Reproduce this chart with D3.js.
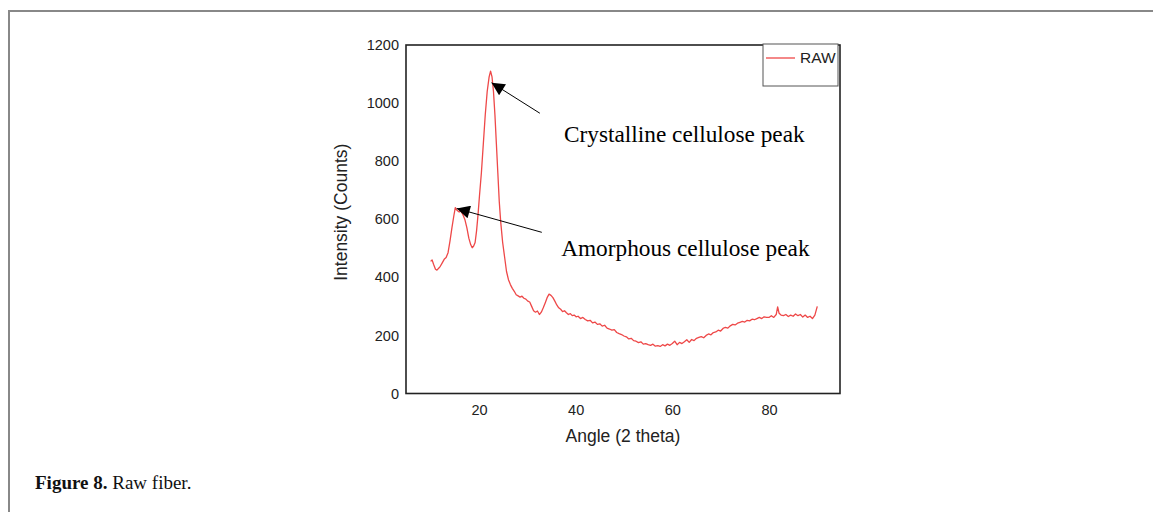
<!DOCTYPE html>
<html>
<head>
<meta charset="utf-8">
<script src="https://cdn.jsdelivr.net/npm/d3@7/dist/d3.min.js"></script>
<style>
  html, body { margin: 0; padding: 0; background: #fff; }
  svg { display: block; }
</style>
</head>
<body>
<svg id="chart" width="1153" height="512"></svg>
<script>
// ---- data ----
const angle = [
  10.0,10.3,10.6,11.0,11.3,11.7,12.0,12.4,12.8,13.2,13.6,14.0,14.4,14.8,15.1,15.5,15.9,16.3,16.7,17.1,
  17.5,17.9,18.3,18.6,18.9,19.2,19.5,19.8,20.1,20.5,20.9,21.3,21.7,22.1,22.4,22.7,23.0,23.3,23.6,23.9,
  24.2,24.5,24.9,25.3,25.7,26.1,26.5,26.9,27.3,27.7,28.1,28.5,28.9,29.3,29.7,30.1,30.5,30.9,31.3,31.7,
  32.1,32.5,32.9,33.3,33.7,34.1,34.5,34.9,35.3,35.7,36.1,36.5,36.9,37.3,37.7,38.1,38.5,38.9,39.3,39.7,
  40.1,40.5,41.0,41.5,42.0,42.5,43.0,43.5,44.0,44.5,45.0,45.5,46.0,46.5,47.0,47.5,48.0,48.5,49.0,49.5,
  50.0,50.5,51.0,51.5,52.0,52.5,53.0,53.5,54.0,54.5,55.0,55.5,56.0,56.5,57.0,57.5,58.0,58.5,59.0,59.5,
  60.0,60.5,61.0,61.5,62.0,62.5,63.0,63.5,64.0,64.5,65.0,65.5,66.0,66.5,67.0,67.5,68.0,68.5,69.0,69.5,
  70.0,70.5,71.0,71.5,72.0,72.5,73.0,73.5,74.0,74.5,75.0,75.5,76.0,76.5,77.0,77.5,78.0,78.5,79.0,79.5,
  80.0,80.5,81.0,81.5,81.8,82.1,82.5,83.0,83.5,84.0,84.5,85.0,85.5,86.0,86.5,87.0,87.5,88.0,88.5,89.0,
  89.5,90.0
];
const intensity = [
  455,460,445,428,425,432,438,450,462,468,485,525,570,612,640,630,625,628,615,598,
  570,535,512,502,508,520,560,615,680,760,860,960,1040,1090,1110,1090,1040,960,860,760,
  660,590,520,470,420,392,375,362,352,340,336,332,335,328,325,318,315,300,285,280,
  284,272,280,295,312,330,342,338,330,318,305,295,290,282,285,278,272,275,268,270,
  264,266,258,262,255,250,252,243,246,238,240,232,235,225,222,218,220,210,206,203,
  198,195,188,190,182,180,175,178,170,172,168,166,170,163,165,162,168,164,170,166,
  172,180,168,176,172,178,185,176,186,182,190,193,196,192,200,205,202,210,212,218,
  215,224,228,225,233,238,236,242,245,248,246,252,250,256,254,258,262,258,264,262,
  262,268,262,272,298,276,270,268,272,265,270,266,274,268,272,263,270,262,266,258,
  270,300
];
const xTicks = [20, 40, 60, 80];
const yTicks = [0, 200, 400, 600, 800, 1000, 1200];
const seriesName = "RAW";
const annotations = [
  { label: "Crystalline cellulose peak", tip: [22.6, 1070], tail: [32.6, 965], text: [37.6, 866] },
  { label: "Amorphous cellulose peak",   tip: [15.4, 637],  tail: [33.0, 555], text: [37.0, 475] }
];
const xTitle = "Angle (2 theta)";
const yTitle = "Intensity (Counts)";
const captionBold = "Figure 8.";
const captionText = " Raw fiber.";

// ---- layout ----
const svg = d3.select("#chart");
const plot = { left: 406, right: 840, top: 45, bottom: 393.5 };

const x = d3.scaleLinear().domain([4.9, 94.7]).range([plot.left, plot.right]);
const y = d3.scaleLinear().domain([0, 1200]).range([plot.bottom, plot.top]);

// page frame (grey lines top and left)
svg.append("line").attr("x1", 8).attr("x2", 1153).attr("y1", 11).attr("y2", 11)
  .attr("stroke", "#888").attr("stroke-width", 2);
svg.append("line").attr("x1", 9).attr("x2", 9).attr("y1", 10).attr("y2", 512)
  .attr("stroke", "#888").attr("stroke-width", 2);

// axes (labels only, no tick marks)
const xAxis = d3.axisBottom(x).tickValues(xTicks).tickSize(0).tickPadding(11).tickFormat(d3.format("d"));
const yAxis = d3.axisLeft(y).tickValues(yTicks).tickSize(0).tickPadding(7).tickFormat(d3.format("d"));

const gx = svg.append("g").attr("transform", `translate(0,${plot.bottom})`).call(xAxis);
const gy = svg.append("g").attr("transform", `translate(${plot.left},0)`).call(yAxis);
[gx, gy].forEach(g => {
  g.select(".domain").remove();
  g.selectAll("text").attr("font-family", "Liberation Sans, Arial, sans-serif")
    .attr("font-size", 14.5).attr("fill", "#222");
});

// data line
const line = d3.line().x((d, i) => x(angle[i])).y(d => y(d));
svg.append("path").datum(intensity).attr("d", line)
  .attr("fill", "none").attr("stroke", "#ee4848").attr("stroke-width", 1.3)
  .attr("stroke-linejoin", "round");

// plot frame
svg.append("rect").attr("x", plot.left).attr("y", plot.top)
  .attr("width", plot.right - plot.left).attr("height", plot.bottom - plot.top)
  .attr("fill", "none").attr("stroke", "#222").attr("stroke-width", 1.6);

// legend
const lg = svg.append("g");
lg.append("rect").attr("x", plot.right - 77).attr("y", plot.top - 1).attr("width", 75).attr("height", 42)
  .attr("fill", "#fff").attr("stroke", "#555").attr("stroke-width", 1);
lg.append("line").attr("x1", plot.right - 74).attr("x2", plot.right - 45)
  .attr("y1", plot.top + 13).attr("y2", plot.top + 13)
  .attr("stroke", "#ee4848").attr("stroke-width", 1.3);
lg.append("text").attr("x", plot.right - 40).attr("y", plot.top + 18)
  .attr("font-family", "Liberation Sans, Arial, sans-serif").attr("font-size", 15.5)
  .attr("fill", "#222").text(seriesName);

// axis titles
svg.append("text").attr("x", (plot.left + plot.right) / 2).attr("y", 442)
  .attr("text-anchor", "middle").attr("font-family", "Liberation Sans, Arial, sans-serif")
  .attr("font-size", 17.5).attr("fill", "#222").text(xTitle);
svg.append("text").attr("transform", `translate(347,${(plot.top + plot.bottom) / 2 - 7}) rotate(-90)`)
  .attr("text-anchor", "middle").attr("font-family", "Liberation Sans, Arial, sans-serif")
  .attr("font-size", 17.5).attr("fill", "#222").text(yTitle);

// annotations with arrows
svg.append("defs").append("marker").attr("id", "arrow")
  .attr("viewBox", "0 0 10 10").attr("refX", 10).attr("refY", 5)
  .attr("markerUnits", "userSpaceOnUse").attr("markerWidth", 18).attr("markerHeight", 13)
  .attr("orient", "auto")
  .append("path").attr("d", "M0,0 L10,5 L0,10 Z").attr("fill", "#000");

annotations.forEach(a => {
  svg.append("line")
    .attr("x1", x(a.tail[0])).attr("y1", y(a.tail[1]))
    .attr("x2", x(a.tip[0])).attr("y2", y(a.tip[1]))
    .attr("stroke", "#000").attr("stroke-width", 1)
    .attr("marker-end", "url(#arrow)");
  svg.append("text").attr("x", x(a.text[0])).attr("y", y(a.text[1]))
    .attr("font-family", "Liberation Serif, Times New Roman, serif")
    .attr("font-size", 23.3).attr("fill", "#000").text(a.label);
});

// caption
const cap = svg.append("text").attr("x", 35).attr("y", 489)
  .attr("font-family", "Liberation Serif, Times New Roman, serif").attr("font-size", 19).attr("fill", "#111");
cap.append("tspan").attr("font-weight", "bold").text(captionBold);
cap.append("tspan").text(captionText);
</script>
</body>
</html>
